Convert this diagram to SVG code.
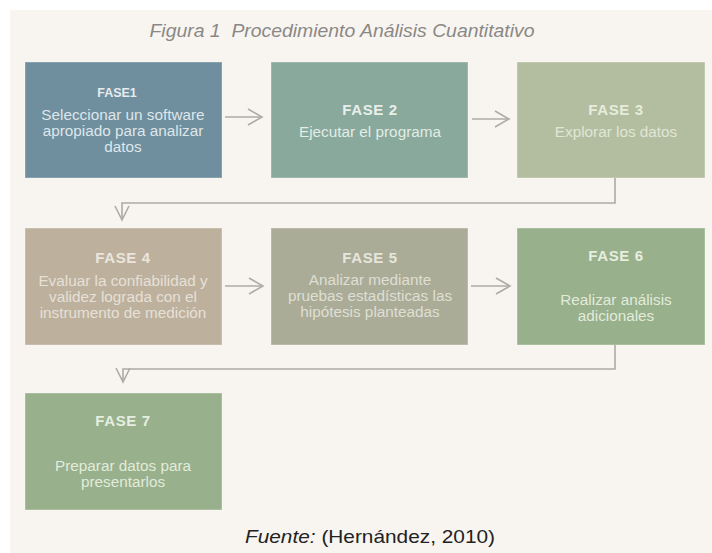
<svg xmlns="http://www.w3.org/2000/svg" width="712" height="553" viewBox="0 0 712 553">
<defs>
<style>
.bg{fill:#f8f5f0}
.box{stroke:#ffffff;stroke-opacity:0.35;stroke-width:1}
.h{font-family:"Liberation Sans",Arial,sans-serif;font-weight:bold;font-size:15px;text-anchor:middle;letter-spacing:0.6px}
.h1{font-family:"Liberation Sans",Arial,sans-serif;font-weight:bold;font-size:12.5px;text-anchor:middle}
.t{font-family:"Liberation Sans",Arial,sans-serif;font-size:15.3px;text-anchor:middle}
.conn{fill:none;stroke:#adaba6;stroke-width:1.6}
.head{fill:none;stroke:#adaba6;stroke-width:1.6;stroke-linejoin:miter}
</style>
</defs>
<rect x="0" y="0" width="712" height="553" fill="#ffffff"/>
<rect class="bg" x="10" y="10" width="702" height="543"/>
<text x="342" y="37" font-family="Liberation Sans, Arial, sans-serif" font-style="italic" font-size="18" fill="#8a8886" text-anchor="middle" textLength="385" lengthAdjust="spacingAndGlyphs">Figura 1&#160; Procedimiento Análisis Cuantitativo</text>

<g id="fase1">
<rect class="box" x="25" y="62" width="197" height="116" fill="#6f8f9e"/>
<text class="h1" x="117" y="97" fill="#e6ebee">FASE1</text>
<text class="t" x="123" y="120" fill="#dfe6ea">Seleccionar un software</text>
<text class="t" x="123" y="136" fill="#dfe6ea">apropiado para analizar</text>
<text class="t" x="123" y="152" fill="#dfe6ea">datos</text>
</g>
<g id="fase2">
<rect class="box" x="271" y="62" width="197" height="116" fill="#88a99b"/>
<text class="h" x="370" y="115" fill="#e8efeb">FASE 2</text>
<text class="t" x="370" y="137" fill="#e3ece7">Ejecutar el programa</text>
</g>
<g id="fase3">
<rect class="box" x="517" y="62" width="188" height="116" fill="#b3bea0"/>
<text class="h" x="616" y="115" fill="#e6ebdc">FASE 3</text>
<text class="t" x="616" y="137" fill="#e0e6d6">Explorar los datos</text>
</g>
<g id="fase4">
<rect class="box" x="25" y="228" width="197" height="117" fill="#bdb19e"/>
<text class="h" x="123" y="263" fill="#ebe5dc">FASE 4</text>
<text class="t" x="123" y="286" fill="#e6e0d6">Evaluar la confiabilidad y</text>
<text class="t" x="123" y="302" fill="#e6e0d6">validez lograda con el</text>
<text class="t" x="123" y="318" fill="#e6e0d6">instrumento de medición</text>
</g>
<g id="fase5">
<rect class="box" x="271" y="228" width="197" height="117" fill="#abac97"/>
<text class="h" x="370" y="263" fill="#e6e6dc">FASE 5</text>
<text class="t" x="370" y="285" fill="#dedfd3">Analizar mediante</text>
<text class="t" x="370" y="301" fill="#dedfd3">pruebas estadísticas las</text>
<text class="t" x="370" y="317" fill="#dedfd3">hipótesis planteadas</text>
</g>
<g id="fase6">
<rect class="box" x="517" y="228" width="188" height="117" fill="#98b08b"/>
<text class="h" x="616" y="261" fill="#e6eee0">FASE 6</text>
<text class="t" x="616" y="305" fill="#e2ebdb">Realizar análisis</text>
<text class="t" x="616" y="321" fill="#e2ebdb">adicionales</text>
</g>
<g id="fase7">
<rect class="box" x="25" y="393" width="197" height="117" fill="#98b08b"/>
<text class="h" x="123" y="426" fill="#e6eee0">FASE 7</text>
<text class="t" x="123" y="471" fill="#e2ebdb">Preparar datos para</text>
<text class="t" x="123" y="487" fill="#e2ebdb">presentarlos</text>
</g>

<g id="connectors">
<line class="conn" x1="225" y1="117" x2="261" y2="117"/>
<polyline class="head" points="248,109 262,117 248,125"/>
<line class="conn" x1="472" y1="119" x2="508" y2="119"/>
<polyline class="head" points="495,111 509,119 495,127"/>
<line class="conn" x1="225" y1="286" x2="262" y2="286"/>
<polyline class="head" points="249,278 263,286 249,294"/>
<line class="conn" x1="471" y1="286" x2="509" y2="286"/>
<polyline class="head" points="496,278 510,286 496,294"/>
<polyline class="conn" points="615,178 615,203 122,203 122,219"/>
<polyline class="head" points="115,206 122,220 129,206"/>
<polyline class="conn" points="615,345 615,369 123,369 123,381"/>
<polyline class="head" points="116,368 123,382 130,368"/>
</g>

<text x="370" y="543" font-family="Liberation Sans, Arial, sans-serif" font-size="19" fill="#222222" text-anchor="middle" textLength="250" lengthAdjust="spacingAndGlyphs"><tspan font-style="italic">Fuente:</tspan> (Hernández, 2010)</text>
</svg>
